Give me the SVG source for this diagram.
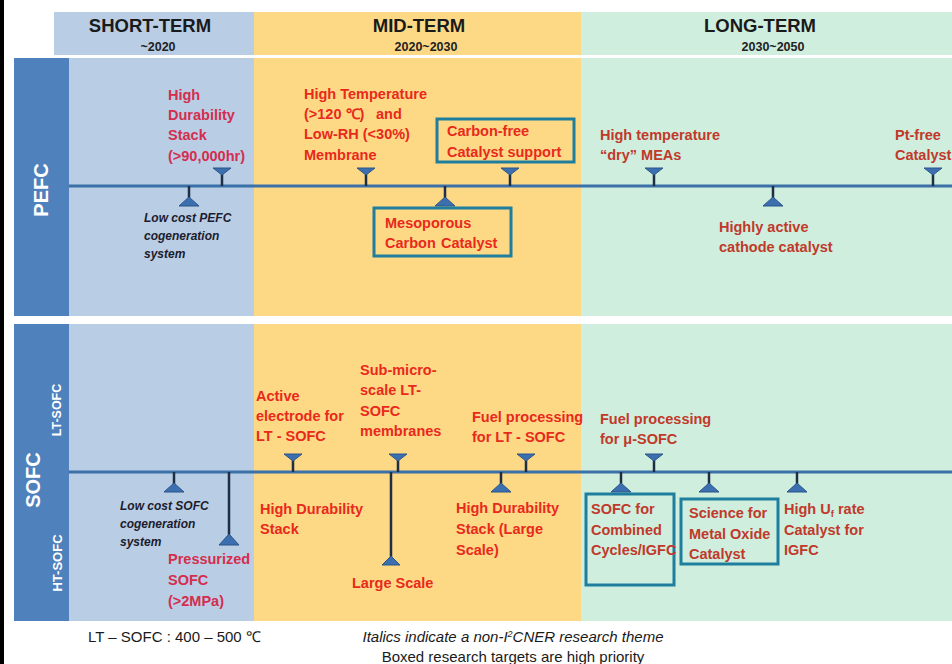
<svg xmlns="http://www.w3.org/2000/svg" width="952" height="664" viewBox="0 0 952 664">
<style>
text{font-family:"Liberation Sans",Arial,sans-serif}
.hd{font-size:18.5px;font-weight:bold;fill:#1a1a1a;text-anchor:middle}
.yr{font-size:12.5px;font-weight:bold;fill:#222;text-anchor:middle}
.side{font-weight:bold;fill:#fff;text-anchor:middle}
.r{font-size:14.5px;font-weight:bold;fill:#e8291c}
.cr{font-size:14.5px;font-weight:bold;fill:#d42e4e}
.dr{font-size:14.5px;font-weight:bold;fill:#c0392b}
.it{font-size:12px;font-weight:bold;font-style:italic;fill:#1c1c2c}
.ft{font-size:15px;fill:#1a1a1a}
.box{fill:none;stroke:#1f7e9e;stroke-width:3}
.tl{stroke:#3b70a8;stroke-width:3}
.stem{stroke:#1e2f45;stroke-width:2.5}
.tri{fill:#3b6fb0;stroke:#2c5588;stroke-width:1}
</style>
<defs>
<g id="mA"><line class="stem" x1="0" y1="-14" x2="0" y2="0"/><polygon class="tri" points="-9,-18 9,-18 0,-11"/></g>
<g id="mB"><line class="stem" x1="0" y1="0" x2="0" y2="13"/><polygon class="tri" points="-10,20 10,20 0,11"/></g>
</defs>
<rect width="952" height="664" fill="#fff"/>
<rect x="0" y="0" width="4" height="664" fill="#000"/>
<!-- header -->
<g id="header">
<rect x="54" y="12" width="200" height="43" fill="#b9cde5"/>
<rect x="254" y="12" width="327" height="43" fill="#fdd985"/>
<rect x="581" y="12" width="371" height="43" fill="#cfeedd"/>
<text class="hd" x="150" y="32">SHORT-TERM</text>
<text class="yr" x="158" y="51">~2020</text>
<text class="hd" x="419" y="32">MID-TERM</text>
<text class="yr" x="426" y="51">2020~2030</text>
<text class="hd" x="760" y="32">LONG-TERM</text>
<text class="yr" x="773" y="51">2030~2050</text>
</g>
<!-- panels -->
<g id="pefc-panel">
<rect x="14" y="58" width="55" height="258" fill="#4f81bd"/>
<rect x="69" y="58" width="185" height="258" fill="#b9cde5"/>
<rect x="254" y="58" width="327" height="258" fill="#fdd985"/>
<rect x="581" y="58" width="371" height="258" fill="#cfeedd"/>
<text class="side" font-size="20" transform="translate(48,190) rotate(-90)">PEFC</text>
</g>
<g id="sofc-panel">
<rect x="14" y="324" width="55" height="297" fill="#4f81bd"/>
<rect x="69" y="324" width="185" height="297" fill="#b9cde5"/>
<rect x="254" y="324" width="327" height="297" fill="#fdd985"/>
<rect x="581" y="324" width="371" height="297" fill="#cfeedd"/>
<text class="side" font-size="20" transform="translate(40,480) rotate(-90)">SOFC</text>
<text class="side" font-size="12.5" transform="translate(61,410) rotate(-90)">LT-SOFC</text>
<text class="side" font-size="13" transform="translate(62,563) rotate(-90)">HT-SOFC</text>
</g>
<g id="connectors">
<line class="tl" x1="69" y1="186" x2="952" y2="186"/>
<line class="tl" x1="69" y1="472" x2="952" y2="472"/>
</g>
<!-- PEFC nodes -->
<g id="p-durability">
<use href="#mA" x="222" y="186"/>
<text class="cr" x="168" y="100">High</text>
<text class="cr" x="168" y="120">Durability</text>
<text class="cr" x="168" y="140">Stack</text>
<text class="cr" x="168" y="161">(&gt;90,000hr)</text>
</g>
<g id="p-lowcost">
<use href="#mB" x="189" y="186"/>
<text class="it" x="144" y="222">Low cost PEFC</text>
<text class="it" x="144" y="240">cogeneration</text>
<text class="it" x="144" y="258">system</text>
</g>
<g id="p-hightemp">
<use href="#mA" x="366" y="186"/>
<text class="r" x="304" y="99">High Temperature</text>
<text class="r" x="304" y="119">(&gt;120 ℃)<tspan x="376">and</tspan></text>
<text class="r" x="304" y="139">Low-RH (&lt;30%)</text>
<text class="r" x="304" y="160">Membrane</text>
</g>
<g id="p-carbonfree">
<use href="#mA" x="510" y="186"/>
<rect class="box" x="437" y="119" width="137" height="43"/>
<text class="r" x="447" y="136">Carbon-free</text>
<text class="r" x="447" y="157">Catalyst support</text>
</g>
<g id="p-mesoporous">
<use href="#mB" x="445" y="186"/>
<rect class="box" x="374" y="208" width="137" height="48"/>
<text class="r" x="385" y="228">Mesoporous</text>
<text class="r" x="385" y="248">Carbon<tspan x="441">Catalyst</tspan></text>
</g>
<g id="p-dry">
<use href="#mA" x="654" y="186"/>
<text class="dr" x="600" y="140">High temperature</text>
<text class="dr" x="600" y="160">“dry” MEAs</text>
</g>
<g id="p-cathode">
<use href="#mB" x="773" y="186"/>
<text class="dr" x="719" y="232">Highly active</text>
<text class="dr" x="719" y="252">cathode catalyst</text>
</g>
<g id="p-ptfree">
<use href="#mA" x="933" y="186"/>
<text class="dr" x="895" y="140">Pt-free</text>
<text class="dr" x="895" y="160">Catalyst</text>
</g>
<!-- SOFC nodes -->
<g id="s-lowcost">
<use href="#mB" x="174" y="472"/>
<text class="it" x="120" y="510">Low cost SOFC</text>
<text class="it" x="120" y="528">cogeneration</text>
<text class="it" x="120" y="546">system</text>
</g>
<g id="s-pressurized">
<line class="stem" x1="229" y1="472" x2="229" y2="536"/>
<polygon class="tri" points="219,545 239,545 229,534"/>
<text class="cr" x="168" y="564">Pressurized</text>
<text class="cr" x="168" y="585">SOFC</text>
<text class="cr" x="168" y="606">(&gt;2MPa)</text>
</g>
<g id="s-active">
<use href="#mA" x="293" y="472"/>
<text class="r" x="256" y="401">Active</text>
<text class="r" x="256" y="421">electrode for</text>
<text class="r" x="256" y="441">LT - SOFC</text>
</g>
<g id="s-durability">
<text class="r" x="260" y="514">High Durability</text>
<text class="r" x="260" y="534">Stack</text>
</g>
<g id="s-submicro">
<use href="#mA" x="398" y="472"/>
<text class="r" x="360" y="375">Sub-micro-</text>
<text class="r" x="360" y="395">scale LT-</text>
<text class="r" x="360" y="416">SOFC</text>
<text class="r" x="360" y="436">membranes</text>
</g>
<g id="s-largescale">
<line class="stem" x1="391" y1="472" x2="391" y2="558"/>
<polygon class="tri" points="382,565 400,565 391,556"/>
<text class="r" x="352" y="588">Large Scale</text>
</g>
<g id="s-fuel-lt">
<use href="#mA" x="526" y="472"/>
<text class="r" x="472" y="422">Fuel processing</text>
<text class="r" x="472" y="442">for LT - SOFC</text>
</g>
<g id="s-durability-large">
<use href="#mB" x="501" y="472"/>
<text class="r" x="456" y="513">High Durability</text>
<text class="r" x="456" y="534">Stack (Large</text>
<text class="r" x="456" y="555">Scale)</text>
</g>
<g id="s-fuel-mu">
<use href="#mA" x="654" y="472"/>
<text class="dr" x="600" y="424">Fuel processing</text>
<text class="dr" x="600" y="444">for μ-SOFC</text>
</g>
<g id="s-combined">
<use href="#mB" x="621" y="472"/>
<rect class="box" x="586" y="494" width="88" height="91"/>
<text class="dr" x="591" y="514">SOFC for</text>
<text class="dr" x="591" y="535">Combined</text>
<text class="dr" x="591" y="555">Cycles/IGFC</text>
</g>
<g id="s-metaloxide">
<use href="#mB" x="709" y="472"/>
<rect class="box" x="681" y="499" width="97" height="65"/>
<text class="dr" x="689" y="518">Science for</text>
<text class="dr" x="689" y="539">Metal Oxide</text>
<text class="dr" x="689" y="559">Catalyst</text>
</g>
<g id="s-uf">
<use href="#mB" x="797" y="472"/>
<text class="dr" x="784" y="514">High U<tspan font-size="9.5" dy="3">f</tspan><tspan dy="-3"> rate</tspan></text>
<text class="dr" x="784" y="535">Catalyst for</text>
<text class="dr" x="784" y="555">IGFC</text>
</g>
<!-- footer -->
<g id="footer">
<text class="ft" x="88" y="642">LT – SOFC : 400 – 500 ℃</text>
<text class="ft" x="513" y="642" text-anchor="middle" font-style="italic">Italics indicate a non-I<tspan font-size="9" dy="-5">2</tspan><tspan dy="5">CNER research theme</tspan></text>
<text class="ft" x="513" y="662" text-anchor="middle">Boxed research targets are high priority</text>
</g>
</svg>
